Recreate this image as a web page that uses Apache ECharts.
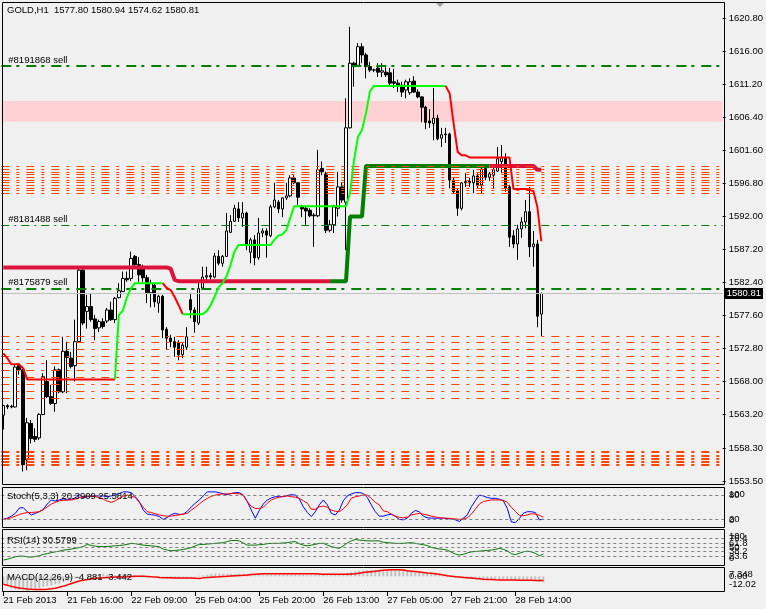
<!DOCTYPE html>
<html>
<head>
<meta charset="utf-8">
<script src="https://cdn.jsdelivr.net/npm/echarts@6.0.0/dist/echarts.min.js"></script>
<style>
html,body{margin:0;padding:0;background:#f0f0f0;overflow:hidden}
#chart{width:766px;height:609px}
</style>
</head>
<body>
<div id="chart"></div>
<script>
// ---------------- data ----------------
const headerText = 'GOLD,H1  1577.80 1580.94 1574.62 1580.81';

const opens = [
1563.1,1564.5,1564.3,1564.3,1570.3,1569.7,1556.6,1561.9,1560.0,1559.8,
1563.2,1568.0,1565.8,1564.8,1569.7,1566.5,1572.4,1571.4,1570.3,1573.8,
1584.2,1578.2,1578.9,1577.1,1575.8,1576.7,1576.8,1578.4,1577.0,1580.2,
1581.1,1583.0,1583.0,1586.2,1585.0,1584.4,1583.1,1580.9,1582.0,1579.4,
1580.4,1575.6,1574.3,1573.8,1573.6,1571.9,1573.0,1579.9,1578.4,1576.5,
1581.6,1583.2,1583.4,1583.2,1586.2,1585.2,1586.2,1589.7,1591.3,1593.1,
1591.8,1592.5,1586.8,1588.6,1586.0,1589.6,1589.9,1589.2,1593.4,1594.1,
1593.1,1594.7,1595.0,1597.6,1596.9,1593.4,1593.2,1592.9,1592.2,1592.1,
1599.0,1598.2,1590.0,1590.8,1593.2,1596.3,1594.1,1604.9,1614.3,1614.0,
1616.7,1615.5,1613.8,1613.3,1613.6,1613.0,1613.0,1612.9,1611.6,1611.4,
1611.1,1610.4,1610.0,1611.7,1610.1,1609.4,1607.9,1605.9,1605.5,1606.3,
1603.4,1603.9,1604.0,1597.3,1595.7,1593.2,1596.9,1597.1,1596.9,1597.9,
1596.6,1599.0,1597.7,1598.0,1598.6,1600.0,1600.5,1596.3,1589.2,1588.0,
1590.2,1591.2,1592.7,1587.6,1588.0,1577.80];
const closes = [
1564.5,1564.3,1564.4,1570.1,1569.7,1555.9,1562.0,1559.7,1559.6,1563.2,
1568.7,1565.8,1564.8,1569.7,1566.5,1572.4,1571.5,1570.2,1573.8,1584.2,
1576.5,1578.9,1577.0,1575.7,1576.7,1576.0,1578.4,1577.0,1580.1,1581.2,
1583.0,1582.8,1585.9,1585.0,1583.5,1583.1,1580.9,1582.3,1579.6,1580.4,
1575.5,1574.3,1573.8,1573.0,1571.9,1573.3,1574.5,1578.4,1576.7,1581.5,
1583.2,1583.4,1583.2,1586.25,1585.2,1586.2,1589.9,1591.3,1593.2,1591.8,
1592.5,1587.9,1588.6,1586.0,1589.6,1589.9,1589.3,1593.4,1594.4,1593.1,
1594.7,1595.0,1597.6,1596.9,1594.8,1593.1,1592.8,1592.1,1592.1,1598.8,
1598.5,1590.0,1590.8,1593.4,1596.3,1594.4,1604.9,1614.3,1613.8,1616.7,
1615.5,1613.8,1613.3,1613.3,1613.0,1613.2,1612.6,1611.4,1611.4,1611.1,
1610.1,1611.6,1611.6,1610.1,1609.4,1607.9,1605.7,1605.6,1606.3,1603.3,
1603.9,1604.0,1597.3,1595.6,1593.2,1596.9,1597.1,1596.9,1597.9,1596.6,
1598.9,1597.7,1598.2,1598.8,1600.4,1600.6,1596.1,1589.0,1588.0,1590.2,
1591.2,1592.7,1587.6,1588.0,1577.5,1580.81];
const lows = [
1561.0,1564.0,1564.1,1564.2,1569.0,1554.9,1555.1,1559.0,1559.2,1559.5,
1563.1,1565.6,1564.6,1563.6,1566.3,1566.3,1566.3,1569.9,1568.0,1573.6,
1576.2,1575.7,1576.7,1574.0,1575.2,1575.7,1576.5,1576.8,1576.5,1580.1,
1581.0,1582.5,1582.6,1584.5,1582.5,1582.5,1579.4,1578.8,1578.8,1578.0,
1574.3,1572.6,1573.0,1571.6,1571.1,1571.4,1572.6,1577.2,1575.1,1576.2,
1581.3,1582.5,1582.8,1583.0,1584.9,1584.7,1586.1,1589.6,1591.2,1591.2,
1590.5,1587.1,1585.2,1584.9,1585.7,1589.0,1586.0,1589.0,1593.2,1592.5,
1591.9,1594.4,1594.8,1596.7,1593.7,1591.9,1590.8,1591.9,1587.6,1591.9,
1598.0,1589.6,1589.7,1589.6,1592.0,1594.0,1587.1,1604.8,1610.9,1613.9,
1614.3,1612.1,1613.0,1613.0,1612.3,1612.3,1612.3,1611.1,1610.7,1610.1,
1609.4,1609.2,1609.7,1610.0,1609.2,1605.7,1604.7,1604.9,1603.1,1603.1,
1602.1,1602.7,1596.1,1595.4,1592.1,1592.9,1596.3,1596.3,1595.4,1596.1,
1595.4,1597.3,1597.2,1596.1,1598.5,1598.3,1595.6,1587.6,1587.4,1585.7,
1588.9,1590.3,1586.1,1584.7,1575.9,1574.62];
const highs = [
1564.6,1564.7,1564.6,1570.5,1570.7,1570.2,1562.7,1562.4,1561.2,1563.4,
1569.2,1571.1,1567.5,1570.2,1569.9,1574.5,1573.8,1572.3,1577.0,1584.5,
1584.5,1580.6,1580.8,1577.7,1577.0,1577.2,1578.7,1579.6,1580.3,1582.3,
1584.0,1584.0,1586.9,1586.4,1586.1,1585.0,1583.5,1582.8,1582.3,1580.6,
1580.6,1575.9,1574.8,1574.5,1574.0,1573.6,1575.9,1580.9,1578.8,1582.6,
1584.7,1584.7,1583.8,1586.7,1587.1,1586.4,1592.5,1592.2,1593.7,1594.1,
1594.1,1592.7,1588.9,1589.3,1591.8,1590.3,1590.3,1593.7,1596.9,1594.4,
1594.8,1596.9,1598.0,1598.0,1597.0,1593.7,1593.4,1593.2,1592.5,1601.7,
1600.0,1598.5,1591.5,1593.7,1598.5,1597.0,1609.2,1619.6,1614.5,1617.2,
1617.2,1615.8,1614.5,1613.5,1614.3,1614.3,1613.7,1613.6,1613.5,1611.9,
1611.6,1611.9,1612.1,1612.4,1610.5,1609.5,1608.1,1607.6,1610.7,1606.8,
1604.9,1604.9,1604.2,1597.6,1596.1,1597.0,1598.3,1597.6,1598.8,1598.3,
1599.2,1599.3,1598.5,1599.2,1602.1,1602.4,1601.2,1596.6,1590.0,1590.8,
1591.9,1594.4,1596.3,1589.9,1588.6,1580.94];

// thin trailing line (red = above price, lime = below price)
const trendA = [
1572.1,1571.4,1570.5,1570.5,1570.5,1569.9,1568.3,1568.3,1568.3,1568.3,
1568.3,1568.3,1568.3,1568.3,1568.3,1568.3,1568.3,1568.3,1568.3,1568.3,
1568.3,1568.3,1568.3,1568.3,1568.3,1568.3,1568.3,1568.3,1568.3,1577.7,
1578.3,1580.2,1581.5,1582.3,1582.3,1582.3,1582.3,1582.3,1582.3,1582.3,
1582.3,1581.6,1581.3,1580.3,1579.1,1577.8,1577.8,1577.8,1577.8,1577.8,
1577.8,1578.2,1579.1,1580.3,1581.7,1582.3,1583.3,1584.9,1586.9,1587.85,
1587.85,1587.85,1587.85,1587.85,1587.85,1587.85,1587.85,1587.85,1588.6,1589.2,
1589.4,1590.0,1591.8,1593.5,1593.5,1593.5,1593.5,1593.5,1593.5,1593.5,
1593.5,1593.5,1593.5,1593.5,1593.5,1593.5,1593.5,1595.4,1600.2,1603.6,
1604.6,1607.0,1610.2,1611.0,1611.0,1611.0,1611.0,1611.0,1611.0,1611.0,
1611.0,1611.0,1611.0,1611.0,1611.0,1611.0,1611.0,1611.0,1611.0,1611.0,
1611.0,1611.0,1609.9,1605.5,1601.4,1600.9,1600.9,1600.6,1600.6,1600.6,
1600.6,1600.6,1600.6,1600.6,1600.6,1600.6,1600.6,1600.6,1596.0,1596.0,
1596.0,1596.0,1595.85,1595.7,1593.4,1588.4];
const trendASegments = [[0,28,'res'],[28,40,'sup'],[40,45,'res'],[45,111,'sup'],[111,135,'res']];

// thick trailing line (crimson / dark green)
const trendB = [
1584.6,1584.6,1584.6,1584.6,1584.6,1584.6,1584.6,1584.6,1584.6,1584.6,
1584.6,1584.6,1584.6,1584.6,1584.6,1584.6,1584.6,1584.6,1584.6,1584.6,
1584.6,1584.6,1584.6,1584.6,1584.6,1584.6,1584.6,1584.6,1584.6,1584.6,
1584.6,1584.6,1584.6,1584.6,1584.6,1584.6,1584.6,1584.6,1584.6,1584.6,
1584.6,1584.6,1584.4,1582.8,1582.6,1582.6,1582.6,1582.6,1582.6,1582.6,
1582.6,1582.6,1582.6,1582.6,1582.6,1582.6,1582.6,1582.6,1582.6,1582.6,
1582.6,1582.6,1582.6,1582.6,1582.6,1582.6,1582.6,1582.6,1582.6,1582.6,
1582.6,1582.6,1582.6,1582.6,1582.6,1582.6,1582.6,1582.6,1582.6,1582.6,
1582.6,1582.6,1582.6,1582.6,1582.6,1582.6,1582.6,1592.0,1592.0,1592.0,
1592.0,1599.35,1599.35,1599.35,1599.35,1599.35,1599.35,1599.35,1599.35,1599.35,
1599.35,1599.35,1599.35,1599.35,1599.35,1599.35,1599.35,1599.35,1599.35,1599.35,
1599.35,1599.35,1599.35,1599.35,1599.35,1599.35,1599.35,1599.35,1599.35,1599.35,
1599.35,1599.35,1599.35,1599.35,1599.35,1599.35,1599.35,1599.35,1599.35,1599.35,
1599.35,1599.35,1599.35,1599.35,1598.8,1598.8];
const trendBSegments = [[0,82,'res'],[82,122,'sup'],[122,135,'res']];

// horizontal objects
const sellLevels = [1613.9, 1590.76, 1581.55];
const sellNames = ['#8191868 sell', '#8181488 sell', '#8175879 sell'];
const zoneBand = [1608.8, 1605.8];
const levelsUpper = [1599.24,1598.85,1598.47,1598.08,1597.70,1597.31,1596.92,1596.54,1596.14,1595.77,1595.38];
const levelsMiddle = [1574.62,1573.7,1572.73,1571.71,1570.65,1569.67,1568.61,1567.59,1566.62,1565.55];
const levelsLower = [1557.75,1557.27,1556.77,1556.34,1555.96];
const lastPrice = 1580.81;

// axis tick labels
const priceTicks = [1553.5,1558.3,1563.2,1568.0,1572.8,1577.6,1582.4,1587.2,1592.0,1596.8,1601.6,1606.4,1611.2,1616.0,1620.8];
const timeTickIndex = [0,16,32,48,64,80,96,112,128];
const timeTickText = ['21 Feb 2013','21 Feb 16:00','22 Feb 09:00','25 Feb 04:00','25 Feb 20:00','26 Feb 13:00','27 Feb 05:00','27 Feb 21:00','28 Feb 14:00'];

// indicators
const stochK = [
20,23,28,35,48,49,39,31,35,39, 45,58,68,65,68,71,68,70,73,81,
74,76,78,78,78,78,76,78,81,84, 88,88,86,76,64,43,33,32,30,27,
20,25,32,35,32,33,40,51,60,68, 78,88,88,88,86,83,81,84,86,86,
80,64,43,23,42,58,68,73,76,76, 76,79,81,80,71,51,37,27,39,56,
68,56,35,31,43,66,78,83,86,86, 84,74,56,39,28,28,31,33,28,20,
19,23,35,42,39,28,24,23,23,23, 23,22,21,19,15,23,31,51,66,80,
78,74,72,72,70,66,47,14,12,22, 35,39,39,37,19,20.39];
const stochD = [
20,22,24,28,32,35,37,37,38,39, 44,51,58,62,66,67,68,68,70,74,
76,78,77,76,74,70,65,62,66,72, 77,80,78,74,62,50,39,37,34,31,
29,28,28,30,31,33,35,43,50,58, 66,72,77,80,82,83,83,84,84,83,
80,64,52,47,47,50,60,68,72,75, 77,78,76,75,72,66,60,45,45,51,
53,50,43,40,39,46,56,72,76,78, 80,80,72,62,56,41,39,33,28,25,
24,26,31,33,35,33,31,28,26,24, 23,23,22,21,20,21,24,33,45,58,
64,66,68,68,68,67,62,50,40,30, 29,31,34,33,30,25.58];
const rsi = [
14,16,20,23,25,25,23,22,24,26, 30,32,35,37,39,42,43,45,47,49,
52,58,55,53,52,52,52,53,54,55, 56,58,61,60,58,56,55,54,53,51,
45,42,40,41,42,44,46,49,54,58, 58,59,60,61,62,63,66,69,69,68,
62,56,56,56,57,58,60,61,61,61, 62,63,65,66,60,56,54,56,58,61,
61,56,52,49,47,54,62,68,72,70, 69,68,68,68,68,64,63,62,61,61,
61,62,63,61,59,57,55,50,47,45, 44,42,36,31,28,30,34,37,38,39,
40,41,42,44,47,44,40,32,29,33, 37,39,37,33,26,30.58];
const macdMain = [
-6.4,-8.0,-9.9,-10.8,-11.2,-11.5,-12.0,-11.2,-10.5,-9.8, -8.5,-8.0,-7.4,-6.5,-5.8,-4.5,-3.6,-2.7,-2.0,-0.9,
-0.5,0.5,0.9,1.4,1.8,2.2,1.6,0.9,0.9,1.5, 2.2,1.8,1.4,0.9,0.9,0.9,0.4,0.1,-0.4,-0.5,
-1.0,-1.8,-1.6,-1.3,-0.9,-0.5,-0.5,-0.3,0.3,0.6, 0.9,1.4,1.8,2.2,2.2,2.2,2.2,2.2,2.2,2.2,
2.2,1.7,1.6,1.4,1.1,0.9,1.4,1.6,1.7,1.7, 1.7,1.7,1.7,1.7,1.5,1.2,0.9,1.0,1.4,1.3,
1.2,0.9,1.0,1.4,1.8,2.2,3.0,3.6,4.2,4.6, 4.9,5.2,5.5,5.5,5.5,5.6,5.9,6.0,6.0,6.0,
5.6,5.0,4.6,4.4,4.0,3.6,3.2,2.8,2.0,1.4, 0.9,0.4,0.0,-0.8,-1.2,-1.5,-1.7,-1.8,-2.0,-2.1,
-2.1,-2.2,-2.3,-2.3,-2.3,-2.3,-2.4,-2.6,-2.8,-3.0, -3.1,-3.1,-3.2,-3.8,-4.5,-4.881];
const macdSignal = [
-6.4,-7.3,-8.2,-8.9,-9.5,-9.9,-10.3,-10.6,-10.7,-10.7, -10.7,-10.5,-10.2,-9.8,-9.0,-8.0,-7.0,-5.8,-4.8,-3.8,
-3.1,-2.6,-2.0,-1.6,-1.3,-1.0,-0.8,-0.6,-0.5,-0.5, -0.5,-0.3,0.0,0.1,0.1,0.1,0.0,-0.3,-0.5,-0.8,
-1.0,-1.1,-1.2,-1.3,-1.3,-1.3,-1.3,-1.3,-1.5,-1.7, -1.2,-0.9,-0.7,-0.5,-0.3,0.0,0.1,0.3,0.5,0.7,
0.9,1.2,1.6,1.8,2.0,2.1,2.2,2.2,2.2,2.2, 2.2,2.2,2.2,2.2,2.2,2.2,2.2,2.2,2.2,2.0,
1.7,1.7,1.7,1.7,1.7,1.7,1.7,2.0,2.2,2.7, 3.2,3.6,3.9,4.2,4.6,5.0,5.3,5.5,5.5,5.5,
5.2,4.6,4.3,4.0,3.7,3.3,2.9,2.6,2.2,1.8, 1.2,0.6,0.2,-0.2,-0.5,-0.8,-1.1,-1.4,-1.7,-2.0,
-2.3,-2.5,-2.6,-2.8,-2.9,-2.9,-2.9,-3.0,-3.0,-3.1, -3.1,-3.1,-3.2,-3.3,-3.4,-3.442];
const stochLevels = [80, 20];
const rsiLevels = [76.4, 61.8, 50, 38.2, 23.6];
const stochScale = [100, 80, 20, 0];
const rsiScale = [100, 76.4, 61.8, 50, 38.2, 23.6, 0];
const macdScale = [7.348, 0, -12.02];
const macdScaleText = ['7.348', '0.00', '-12.02'];
const stochTitle = 'Stoch(5,3,3) 20.3909 25.5814';
const rsiTitle = 'RSI(14) 30.5799';
const macdTitle = 'MACD(12,26,9) -4.881 -3.442';

// ---------------- chart ----------------
const FONT = '"Liberation Sans", Arial, sans-serif';
const FS = 9.5;
const N = 181;
const cats = Array.from({length: N}, (_, i) => String(i));
const candleData = opens.map((o, i) => [o, closes[i], lows[i], highs[i]]);

function segData(vals, a, b) {
  const d = new Array(N).fill(null);
  for (let i = a; i <= b; i++) d[i] = vals[i];
  return d;
}

const GL = 1.3, GW = 724, GR = 766 - GL - GW;
const grids = [
  {left: GL, right: GR, top: 2, height: 482.5},
  {left: GL, right: GR, top: 487, height: 40.5},
  {left: GL, right: GR, top: 529.5, height: 35.5},
  {left: GL, right: GR, top: 567.5, height: 23.5}
];

const isTick = (idx) => timeTickIndex.indexOf(idx) >= 0;
const xAxes = grids.map((g, k) => ({
  type: 'category', gridIndex: k, data: cats, boundaryGap: true, position: 'bottom',
  show: k === 3,
  axisLine: {show: false, onZero: false},
  axisTick: {show: k === 3, alignWithLabel: true, length: 5, lineStyle: {color: '#000'}, interval: isTick},
  axisLabel: {show: k === 3, interval: isTick,
    formatter: (v) => { const j = timeTickIndex.indexOf(Number(v)); return j >= 0 ? timeTickText[j] : ''; },
    align: 'left', margin: 4, color: '#000', fontSize: FS, fontFamily: FONT},
  splitLine: {show: false}
}));

const yAxes = [
  {type: 'value', gridIndex: 0, position: 'right', min: 1553.02, max: 1623.20, scale: true,
   axisLine: {show: false}, splitLine: {show: false},
   axisTick: {show: true, length: 3, lineStyle: {color: '#000'}, customValues: priceTicks},
   axisLabel: {customValues: priceTicks, formatter: (v) => v.toFixed(2), margin: 6, color: '#000', fontSize: FS, fontFamily: FONT}},
  {type: 'value', gridIndex: 1, min: 0, max: 100, show: false},
  {type: 'value', gridIndex: 2, min: 0, max: 100, show: false},
  {type: 'value', gridIndex: 3, min: -12.02, max: 7.348, show: false}
];

const orangeDash = [8, 7, 3, 7];
function hl(v, color, width, type) { return {yAxis: v, lineStyle: {color: color, width: width, type: type}}; }

const series = [];
// pink zone
series.push({type: 'line', xAxisIndex: 0, yAxisIndex: 0, data: [], silent: true, z: 1,
  markArea: {silent: true, itemStyle: {color: '#ffd0d4'}, data: [[{yAxis: zoneBand[0]}, {yAxis: zoneBand[1]}]]}});
// orange levels
series.push({type: 'line', xAxisIndex: 0, yAxisIndex: 0, data: [], silent: true, z: 2,
  markLine: {silent: true, symbol: ['none', 'none'], label: {show: false}, animation: false,
    data: [].concat(
      levelsUpper.map(v => hl(v, '#ff4500', 1, orangeDash)),
      levelsMiddle.map(v => hl(v, '#ff4500', 1, orangeDash)),
      levelsLower.map(v => hl(v, '#ff4500', 2, orangeDash)))}});
// sell order lines
series.push({type: 'line', xAxisIndex: 0, yAxisIndex: 0, data: [], silent: true, z: 2,
  markLine: {silent: true, symbol: ['none', 'none'], animation: false,
    data: sellLevels.map((v, i) => ({
      yAxis: v, name: sellNames[i],
      lineStyle: {color: '#008000', width: i === 1 ? 1 : 2, type: i === 1 ? [8, 5, 2, 5] : [10, 5, 3, 7]},
      label: {show: true, position: 'insideStartTop', formatter: '{b}', color: '#000', fontSize: FS, fontFamily: FONT, distance: [7, 1]}
    }))}});
// last price line
series.push({type: 'line', xAxisIndex: 0, yAxisIndex: 0, data: [], silent: true, z: 2,
  markLine: {silent: true, symbol: ['none', 'none'], animation: false,
    data: [{yAxis: lastPrice, lineStyle: {color: '#c0c0c0', width: 1, type: 'solid'},
      label: {show: true, position: 'end', formatter: lastPrice.toFixed(2), color: '#fff', backgroundColor: '#000',
        padding: [1, 2, 0, 2], fontSize: FS, fontFamily: FONT, distance: 2}}]}});
// candles
series.push({type: 'candlestick', xAxisIndex: 0, yAxisIndex: 0, data: candleData, barWidth: 3, z: 3, silent: true,
  itemStyle: {color: '#ffffff', color0: '#000000', borderColor: '#000000', borderColor0: '#000000', borderWidth: 1}});
// trailing lines
trendBSegments.forEach(s => series.push({type: 'line', xAxisIndex: 0, yAxisIndex: 0, data: segData(trendB, s[0], s[1]),
  symbol: 'none', silent: true, z: 4, lineStyle: {width: 4, color: s[2] === 'res' ? '#dc143c' : '#008000'}}));
trendASegments.forEach(s => series.push({type: 'line', xAxisIndex: 0, yAxisIndex: 0, data: segData(trendA, s[0], s[1]),
  symbol: 'none', silent: true, z: 5, lineStyle: {width: 2, color: s[2] === 'res' ? '#ff0000' : '#00ff00'}}));

// stochastic
series.push({type: 'line', xAxisIndex: 1, yAxisIndex: 1, data: stochK, symbol: 'none', silent: true, z: 3,
  lineStyle: {width: 1, color: '#0000ff'},
  markLine: {silent: true, symbol: ['none', 'none'], label: {show: false}, animation: false,
    data: stochLevels.map(v => hl(v, '#808080', 1, [3, 3]))}});
series.push({type: 'line', xAxisIndex: 1, yAxisIndex: 1, data: stochD, symbol: 'none', silent: true, z: 4,
  lineStyle: {width: 1, color: '#ff0000'}});
// RSI
series.push({type: 'line', xAxisIndex: 2, yAxisIndex: 2, data: rsi, symbol: 'none', silent: true, z: 3,
  lineStyle: {width: 1, color: '#007800'},
  markLine: {silent: true, symbol: ['none', 'none'], label: {show: false}, animation: false,
    data: rsiLevels.map(v => hl(v, '#808080', 1, [3, 3]))}});
// MACD
series.push({type: 'bar', xAxisIndex: 3, yAxisIndex: 3, data: macdMain, barWidth: 2, silent: true, z: 2,
  itemStyle: {color: '#c0c0c0'}});
series.push({type: 'line', xAxisIndex: 3, yAxisIndex: 3, data: macdSignal, symbol: 'none', silent: true, z: 3,
  lineStyle: {width: 1.5, color: '#ff0000'}});

const chart = echarts.init(document.getElementById('chart'), null, {renderer: 'canvas'});
chart.setOption({
  animation: false,
  backgroundColor: '#f0f0f0',
  grid: grids,
  xAxis: xAxes,
  yAxis: yAxes,
  series: series
});

// texts and pane frames
function txt(x, y, s) {
  return {type: 'text', x: x, y: y, silent: true, z: 10,
    style: {text: s, fill: '#000', font: FS + 'px ' + FONT, textVerticalAlign: 'middle', textAlign: 'left'}};
}
function clampY(k, v, pad) {
  const g = grids[k];
  const y = chart.convertToPixel({yAxisIndex: k}, v);
  return Math.min(Math.max(y, g.top + pad), g.top + g.height - pad);
}
const frames = [[2.5, 2.5, 722, 482], [2.5, 487.5, 722, 40], [2.5, 529.5, 722, 36], [2.5, 567.5, 722, 24]];
const graphics = frames.map(f => ({type: 'rect', silent: true, z: 9,
  shape: {x: f[0], y: f[1], width: f[2], height: f[3]}, style: {fill: 'none', stroke: '#000', lineWidth: 1}}));
graphics.push({type: 'polygon', silent: true, z: 9, shape: {points: [[436, 3], [444, 3], [440, 7]]}, style: {fill: '#a0a0a0'}});
graphics.push(txt(7, 10.5, headerText));
graphics.push(txt(7, 496, stochTitle));
graphics.push(txt(7, 540, rsiTitle));
graphics.push(txt(7, 577.5, macdTitle));
stochScale.forEach(v => graphics.push(txt(729, clampY(1, v, 7), String(v))));
rsiScale.forEach(v => graphics.push(txt(729, clampY(2, v, 6.5), String(v))));
macdScale.forEach((v, i) => graphics.push(txt(729, clampY(3, v, 6.5), macdScaleText[i])));
chart.setOption({graphic: graphics});
</script>
</body>
</html>
